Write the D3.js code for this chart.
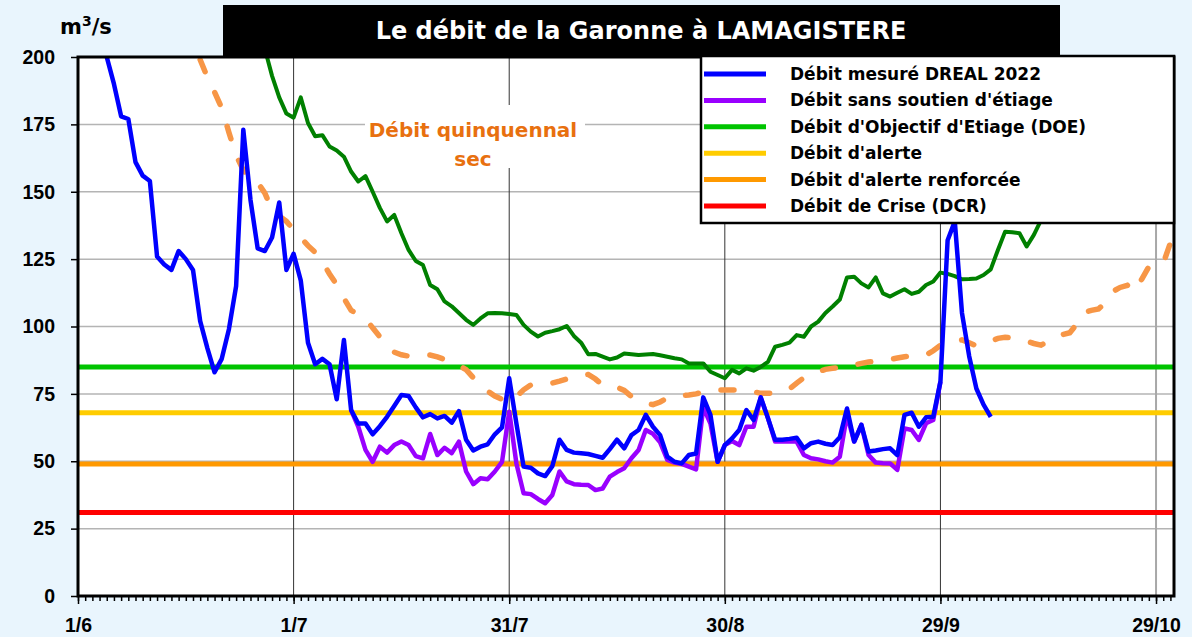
<!DOCTYPE html>
<meta charset="utf-8">
<style>
body { margin: 0; background: #e9f5fd; }
svg { display: block; font-family: 'DejaVu Sans', sans-serif; font-weight: bold; }
.axis text { font-size: 19.5px; font-weight: bold; fill: #000; }
.axis path { display: none; }
.axis line { stroke: #000; stroke-width: 1.5; }
.legend text { font-size: 17px; }
</style>
<body>
<script src="https://cdn.jsdelivr.net/npm/d3@7"></script>
<script>
// flows in m3/s, one value per day, day 0 = 1 June 2022
var start = Date.UTC(2022, 5, 1);

var mesureStart = 3;
var mesure = [212,200,190,178,177,161,156,154,126,123,121,128,125,121,102,92,83,88,99,115,
  173,147,129,128,133,146,121,127,117,94,86,88,86,73,95,69,64,64,60,63,66.5,70.5,74.6,74.2,70,
  66.3,67.5,65.9,66.8,64.3,68.6,58,54,55.4,56.3,60,62.6,80.8,64,48,47.6,45.5,44.5,48.2,58,54.2,
  53.2,53,52.7,52,51.3,54.5,58,54.8,59.7,61.6,67.2,62.8,59.7,51.7,49.8,49.2,52.3,52.9,73.7,67.2,
  49.8,56,58.5,61.6,69,65.3,73.7,66,58,58,58.3,58.7,54.8,56.7,57.3,56.5,56,58.9,69.6,57.3,63.5,
  53.6,54,54.5,54.8,52.3,67.2,68,62.8,66.3,66.5,79.5,132,139,105,89,77,71,66.5];

var sansSoutienStart = 38;
var sansSoutien = [69,62.8,54.2,49.8,55.4,53.2,56,57.3,56,51.9,51.1,60.1,52.3,55,53,57.3,46.2,
  41.5,43.7,43.3,46.2,49.8,68.4,49.2,38.1,37.8,36,34.4,37.5,46.2,42.5,41.5,41.3,41.2,39.3,39.9,
  44.3,46,47.4,51.1,54.2,61.6,60.2,57,50.5,49.5,49,48,47,70,64,49.8,56,57.5,56,62.8,62.8,73.7,66,
  57.3,57.3,57.3,57.3,52.3,51.1,50.7,50,49.5,51.7,67.2,57.3,63.5,52.3,49.5,49.3,49.2,46.8,62.2,
  61.6,57.9,64.1,65.3,79.5];

var autreStart = 26;
var autre = [203,193,185,179,177.5,185,175.5,170.6,171,166.8,165.3,163,157.5,153.8,155.8,150,
  144,139,141.4,134.6,128.4,124.3,122.8,115.4,113.8,109.3,107.5,105,102.5,100.6,103,104.9,105,
  104.9,104.6,104.3,100.6,98.1,96.3,97.7,98.3,99,100.2,96.5,94,89.7,89.8,88.8,87.8,88.5,90,89.7,
  89.4,89.6,89.8,89.3,88.8,88.2,87.8,86.3,86.3,86.3,83.2,82,80.8,83.9,82.6,84.5,83.6,85,86.9,92.5,
  93.2,94,96.8,96.2,100,101.8,105,107.4,110,118.2,118.5,116,114.5,118.2,112.3,111.1,112.5,113.8,
  112.1,112.9,115.4,116.7,120,119.5,118.7,117.5,117.6,117.8,119.1,121.2,128.4,135.2,135,134.6,
  129.7,134,139.5,144,148];

var quinqStart = 17;
var quinq = [199,192.5,187,181,172,163.5,158,154.3,153.4,149.5,143.2,141,139,136,133,130,127.5,
  124,119.5,115.5,110.5,106,104.5,103,99.5,96.2,93,90.5,89.5,89,88.9,89.1,89.4,88.7,87.8,87,85.5,
  84,81,78.7,76,74.2,73,72,74,76.5,78.3,78.3,78.3,79,79.7,80.5,81.3,82,82.2,80.5,78.2,77.9,77.5,
  76.3,74,72.5,71.5,71,72,73.5,74.2,74.4,74.6,75,75.7,76.4,76.4,76.4,76.4,76.4,76.4,75.8,75.2,
  75.2,75.2,76,76.8,79,81,82.2,83.2,84.1,84.5,84.8,85,85.7,86.3,86.8,87.1,87.4,87.8,88.3,88.8,89,
  89.2,89.4,91,93,93.7,94.4,95,94,92.8,93.7,94.6,95.6,96,95.8,95.4,94.6,93.7,93.1,94.5,96.3,97,
  97.7,101,105.2,106,106.5,109,113,114.5,115.3,113,117.5,122.2,122.8,123.4,131,142];

var seuilNames = ["Débit d'Objectif d'Etiage (DOE)", "Débit d'alerte", "Débit d'alerte renforcée", "Débit de Crise (DCR)"];
var seuilValues = [85, 68, 49, 31];
var seuilColors = ["#00c400", "#ffcc00", "#ff9900", "#ff0000"];

var legendNames = ["Débit mesuré DREAL 2022", "Débit sans soutien d'étiage"].concat(seuilNames);
var legendColors = ["#0000ff", "#9900ff"].concat(seuilColors);

var yTicks = d3.range(0, 201, 25);
var xTickDays = [0, 30, 60, 90, 120, 150];

var day = function(i) { return new Date(start + i * 864e5); };

var svg = d3.select('body').append('svg')
    .attr('width', 1192)
    .attr('height', 637);

var x = d3.scaleUtc().domain([day(0), day(152.5)]).range([78, 1174]);
var y = d3.scaleLinear().domain([0, 200]).range([596, 57]);

svg.append('defs').append('clipPath').attr('id', 'plot')
  .append('rect').attr('x', 78).attr('y', 57).attr('width', 1096).attr('height', 539);

svg.append('rect')
   .attr('x', 78).attr('y', 57).attr('width', 1096).attr('height', 539)
   .attr('fill', '#fff');

// grid
svg.selectAll('.hgrid').data(yTicks.slice(1, -1)).enter().append('line')
   .attr('x1', 78).attr('x2', 1174)
   .attr('y1', function(d) { return y(d); }).attr('y2', function(d) { return y(d); })
   .attr('stroke', '#b4b4b4').attr('stroke-width', 1.5);

svg.selectAll('.vgrid').data(xTickDays.slice(1)).enter().append('line')
   .attr('x1', function(d) { return x(day(d)); }).attr('x2', function(d) { return x(day(d)); })
   .attr('y1', 57).attr('y2', 596)
   .attr('stroke', function(d) { return d == 150 ? '#a8a8a8' : '#333'; })
   .attr('stroke-width', function(d) { return d == 150 ? 2 : 1; });

// label box of the dry-year curve
svg.append('rect')
   .attr('x', 365).attr('y', 105).attr('width', 220).attr('height', 63)
   .attr('fill', '#fff');
svg.append('text')
   .attr('x', 473).attr('y', 137)
   .attr('text-anchor', 'middle')
   .attr('font-size', 20)
   .attr('fill', '#e8700f')
   .selectAll('tspan').data(['Débit quinquennal', 'sec']).enter().append('tspan')
   .attr('x', 473).attr('dy', function(d, i) { return i ? 29 : 0; })
   .text(function(d) { return d; });

var plot = svg.append('g').attr('clip-path', 'url(#plot)');

plot.selectAll('.seuil').data(seuilValues).enter().append('line')
    .attr('x1', 78).attr('x2', 1174)
    .attr('y1', function(d) { return y(d); }).attr('y2', function(d) { return y(d); })
    .attr('stroke', function(d, i) { return seuilColors[i]; })
    .attr('stroke-width', 5);

function series(vals, first) {
  return vals.map(function(v, i) { return [day(first + i), v]; });
}
var line = d3.line()
    .x(function(d) { return x(d[0]); })
    .y(function(d) { return y(d[1]); });

plot.append('path').datum(series(autre, autreStart))
    .attr('d', line).attr('fill', 'none')
    .attr('stroke', '#008000').attr('stroke-width', 4).attr('stroke-linejoin', 'round');

plot.append('path').datum(series(quinq, quinqStart))
    .attr('d', line).attr('fill', 'none')
    .attr('stroke', '#f79646').attr('stroke-width', 5.5)
    .attr('stroke-linecap', 'round').attr('stroke-dasharray', '13,23');

plot.append('path').datum(series(sansSoutien, sansSoutienStart))
    .attr('d', line).attr('fill', 'none')
    .attr('stroke', '#9900ff').attr('stroke-width', 4.5).attr('stroke-linejoin', 'round');

plot.append('path').datum(series(mesure, mesureStart))
    .attr('d', line).attr('fill', 'none')
    .attr('stroke', '#0000ff').attr('stroke-width', 4.5).attr('stroke-linejoin', 'round');

// axes
svg.append('g').attr('class', 'axis')
   .attr('transform', 'translate(78,0)')
   .call(d3.axisLeft(y).tickValues(yTicks).tickSize(7).tickPadding(16));

svg.append('g').attr('class', 'axis')
   .attr('transform', 'translate(0,596)')
   .call(d3.axisBottom(x).tickValues(d3.range(0, 153).map(day)).tickSize(5).tickFormat(''));

svg.append('g').attr('class', 'axis')
   .attr('transform', 'translate(0,596)')
   .call(d3.axisBottom(x).tickValues(xTickDays.map(day)).tickSize(8).tickPadding(14)
         .tickFormat(d3.utcFormat('%-d/%-m')));

svg.append('rect')
   .attr('x', 78).attr('y', 57).attr('width', 1096).attr('height', 539)
   .attr('fill', 'none').attr('stroke', '#000').attr('stroke-width', 3);

// title and unit
svg.append('rect')
   .attr('x', 223).attr('y', 5).attr('width', 837).attr('height', 51)
   .attr('fill', '#000');
svg.append('text')
   .attr('x', 641).attr('y', 39)
   .attr('text-anchor', 'middle')
   .attr('font-size', 24)
   .attr('fill', '#fff')
   .text('Le débit de la Garonne à LAMAGISTERE');

var unit = svg.append('text').attr('x', 60).attr('y', 34).attr('font-size', 21);
unit.append('tspan').text('m');
unit.append('tspan').attr('dy', -8).attr('font-size', 14).text('3');
unit.append('tspan').attr('dy', 8).text('/s');

// legend
var legend = svg.append('g').attr('class', 'legend');
legend.append('rect')
   .attr('x', 701).attr('y', 56).attr('width', 473).attr('height', 167)
   .attr('fill', '#fff').attr('stroke', '#000').attr('stroke-width', 2.5);
var item = legend.selectAll('.item').data(legendNames).enter().append('g')
   .attr('transform', function(d, i) { return 'translate(0,' + (74 + i * 26.4) + ')'; });
item.append('line')
   .attr('x1', 704).attr('x2', 766)
   .attr('stroke', function(d, i) { return legendColors[i]; })
   .attr('stroke-width', 5);
item.append('text')
   .attr('x', 790).attr('y', 6)
   .text(function(d) { return d; });
</script>
</body>
